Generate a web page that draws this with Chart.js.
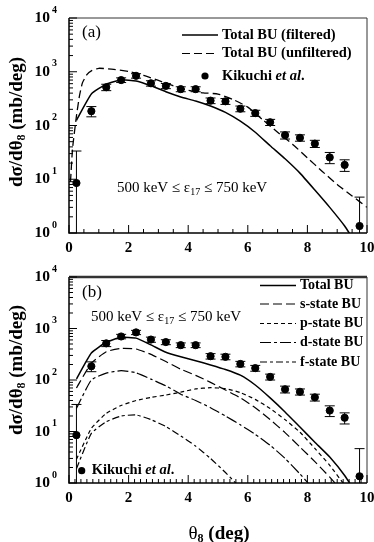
<!DOCTYPE html>
<html>
<head>
<meta charset="utf-8">
<script src="https://cdn.jsdelivr.net/npm/chart.js@4"></script>
<style>
  html, body { margin: 0; padding: 0; background: #fff; }
  #wrap { position: relative; width: 374px; height: 542px; }
  canvas { position: absolute; left: 0; }
  #chartA { top: 0; }
  #chartB { top: 260px; }
</style>
</head>
<body>
<div id="wrap">
  <canvas id="chartA" width="374" height="260"></canvas>
  <canvas id="chartB" width="374" height="282"></canvas>
</div>
<script>
// angle bins (deg)
const binTheta = [0.25, 0.75, 1.25, 1.75, 2.25, 2.75, 3.25, 3.75, 4.25, 4.75,
                  5.25, 5.75, 6.25, 6.75, 7.25, 7.75, 8.25, 8.75, 9.25, 9.75];

// Kikuchi et al. data (mb/deg)
const kikuchiSigma = [8.5, 185, 515, 700, 840, 610, 545, 475, 475, 290,
                      282, 205, 170, 115, 66, 59, 46, 25.5, 18.5, 1.35];
const kikuchiErr = [25, 40, 70, 70, 80, 70, 60, 50, 50, 35,
                    35, 25, 22, 15, 10, 8, 7, 6, 4.5, 3.3];

// panel (a)
const filteredBU = [125, 385, 590, 705, 675, 550, 425, 340, 285, 230,
                    175, 120, 75, 42, 24, 13, 6.3, 3.0, 1.35, 0.5];
const unfilteredTheta = [0.05, 0.12, 0.25, 0.35, 0.45, 0.6, 0.75, 1.0, 1.5, 2.0, 2.5, 3.0, 3.5,
                         4.0, 4.5, 5.0, 5.5, 6.0, 6.5, 7.0, 7.5, 8.0, 8.5, 9.0, 9.5, 10.0];
const unfilteredBU = [9, 38, 150, 353, 620, 880, 1040, 1160, 1110, 1010, 860, 690, 545,
                      450, 405, 385, 305, 220, 128, 75, 45, 25, 14, 8, 4.9, 3.0];

// panel (b)
const totalBU = [105, 335, 540, 675, 650, 480, 345, 282, 237, 196,
                 160, 124, 80, 45, 24, 12.2, 6.2, 3.2, 1.4, 0.5];
const sStateBU = [70, 212, 355, 410, 400, 315, 228, 162, 123, 90,
                  64, 45, 29, 17, 9.5, 5.0, 2.6, 1.3, 0.6, 0.2];
const pStateBU = [2.9, 11.5, 22.5, 32, 40, 46, 51, 58, 67, 71,
                  68, 57, 42, 28, 17, 9.7, 4.7, 2.2, 0.9, 0.3];
const dStateBU = [28, 100, 136, 152, 138, 104, 77, 53, 40, 29,
                  20, 13.5, 8.8, 5.4, 3.0, 1.5, 0.7, 0.3, 0.1, 0.05];
const fStateBU = [1.9, 9.2, 15.5, 20, 21, 17, 12.5, 8.2, 5.2, 3.0,
                  1.6, 0.8, 0.35, null, null, null, null, null, null, null];

const xTickLabels = [0, 2, 4, 6, 8, 10];
const yDecades = [1, 10, 100, 1000, 10000];

const SERIF = '"Liberation Serif", "DejaVu Serif", serif';

function pts(xs, ys) {
    return xs.map((x, i) => ({ x: x, y: ys[i] }));
}

// draw a run of text pieces; parts = [{t, font, dy}]
function drawRich(ctx, parts, x, y, align) {
    let w = 0;
    parts.forEach(p => { ctx.font = p.font; w += ctx.measureText(p.t).width; });
    let cx = align === 'center' ? x - w / 2 : (align === 'right' ? x - w : x);
    ctx.textAlign = 'left';
    ctx.textBaseline = 'middle';
    parts.forEach(p => {
        ctx.font = p.font;
        ctx.fillText(p.t, cx, y + (p.dy || 0));
        cx += ctx.measureText(p.t).width;
    });
}

const errorBars = {
    id: 'errorBars',
    afterDatasetsDraw(chart) {
        const ctx = chart.ctx, xs = chart.scales.x, ys = chart.scales.y, area = chart.chartArea;
        ctx.save();
        ctx.strokeStyle = '#000';
        ctx.lineWidth = 1;
        binTheta.forEach((t, i) => {
            const px = xs.getPixelForValue(t);
            const hi = kikuchiSigma[i] + kikuchiErr[i];
            const lo = kikuchiSigma[i] - kikuchiErr[i];
            const yHi = ys.getPixelForValue(hi);
            const yLo = lo >= 1 ? ys.getPixelForValue(lo) : area.bottom;
            ctx.beginPath();
            ctx.moveTo(px, yHi); ctx.lineTo(px, yLo);
            ctx.moveTo(px - 5, yHi); ctx.lineTo(px + 5, yHi);
            if (lo >= 1) { ctx.moveTo(px - 5, yLo); ctx.lineTo(px + 5, yLo); }
            ctx.stroke();
        });
        ctx.restore();
    }
};

function axesPlugin(cfg) {
    return {
        id: 'axesFrame',
        afterDraw(chart) {
            const ctx = chart.ctx, xs = chart.scales.x, ys = chart.scales.y, a = chart.chartArea;
            ctx.save();
            ctx.fillStyle = '#000';
            ctx.strokeStyle = '#000';
            // frame
            ctx.lineWidth = 1.5;
            ctx.beginPath();
            ctx.moveTo(a.left, a.top); ctx.lineTo(a.left, a.bottom); ctx.lineTo(a.right, a.bottom);
            ctx.stroke();
            ctx.lineWidth = 1;
            ctx.strokeStyle = '#333';
            ctx.beginPath();
            ctx.moveTo(a.right, a.bottom); ctx.lineTo(a.right, a.top);
            ctx.stroke();
            ctx.lineWidth = cfg.topWidth;
            ctx.beginPath();
            ctx.moveTo(a.left, a.top); ctx.lineTo(a.right, a.top);
            ctx.stroke();
            ctx.strokeStyle = '#000';
            ctx.lineWidth = 1;

            // x ticks inward
            ctx.beginPath();
            for (let k = 0; k <= Math.round(10 / cfg.xStep); k++) {
                const v = k * cfg.xStep;
                const px = xs.getPixelForValue(v);
                const major = Math.abs(v / 2 - Math.round(v / 2)) < 1e-6;
                const len = major ? 8 : 4;
                ctx.moveTo(px, a.bottom); ctx.lineTo(px, a.bottom - len);
            }
            // y ticks inward
            yDecades.forEach((d, j) => {
                const top = j === yDecades.length - 1 ? 1 : 9;
                for (let m = 1; m <= top; m++) {
                    const py = ys.getPixelForValue(m * d);
                    const len = m === 1 ? 8 : 4;
                    ctx.moveTo(a.left, py); ctx.lineTo(a.left + len, py);
                }
            });
            ctx.stroke();

            // tick labels
            xTickLabels.forEach(v => {
                drawRich(ctx, [{ t: String(v), font: 'bold 15px ' + SERIF }],
                    xs.getPixelForValue(v), a.bottom + 15, 'center');
            });
            yDecades.forEach((d, j) => {
                const py = ys.getPixelForValue(d);
                ctx.font = 'bold 15.5px ' + SERIF;
                ctx.textAlign = 'right';
                ctx.textBaseline = 'middle';
                ctx.fillText('10', 50, py);
                ctx.font = 'bold 10px ' + SERIF;
                ctx.textAlign = 'left';
                ctx.fillText(String(j), 52, py - 8);
            });

            // y title
            ctx.save();
            ctx.translate(17, cfg.yTitleY);
            ctx.rotate(-Math.PI / 2);
            drawRich(ctx, [
                { t: 'd\u03c3/d\u03b8', font: 'bold 19px ' + SERIF },
                { t: '8', font: 'bold 12px ' + SERIF, dy: 5 },
                { t: ' (mb/deg)', font: 'bold 19px ' + SERIF }
            ], 0, 0, 'center');
            ctx.restore();

            cfg.annotate(ctx, chart);
            ctx.restore();
        }
    };
}

function energyLabel(ctx, cx, cy) {
    drawRich(ctx, [
        { t: '500 keV \u2264 \u03b5', font: '15px ' + SERIF },
        { t: '17', font: '10px ' + SERIF, dy: 4 },
        { t: ' \u2264 750 keV', font: '15px ' + SERIF }
    ], cx, cy, 'center');
}

function kikuchiLabel(ctx, x, y, size) {
    drawRich(ctx, [
        { t: 'Kikuchi ', font: 'bold ' + size + 'px ' + SERIF },
        { t: 'et al', font: 'italic bold ' + size + 'px ' + SERIF },
        { t: '.', font: 'bold ' + size + 'px ' + SERIF }
    ], x, y, 'left');
}

function legendLine(ctx, x1, x2, y, dash, text, size) {
    ctx.save();
    ctx.lineWidth = dash.length ? 1.2 : 1.5;
    ctx.setLineDash(dash);
    ctx.beginPath();
    ctx.moveTo(x1, y); ctx.lineTo(x2, y);
    ctx.stroke();
    ctx.restore();
    drawRich(ctx, [{ t: text, font: 'bold ' + size + 'px ' + SERIF }], x2 + 4, y, 'left');
}

function curve(data, dash, width) {
    return {
        data: data,
        showLine: true,
        borderColor: '#000',
        borderWidth: width || 1.2,
        borderDash: dash,
        pointRadius: 0,
        fill: false,
        tension: 0.15
    };
}

function kikuchiSet() {
    return {
        data: pts(binTheta, kikuchiSigma),
        showLine: false,
        pointRadius: 3.6,
        backgroundColor: '#000',
        borderColor: '#000'
    };
}

function baseOptions(padding) {
    return {
        responsive: false,
        animation: false,
        layout: { padding: padding },
        plugins: { legend: { display: false }, tooltip: { enabled: false } },
        scales: {
            x: { type: 'linear', min: 0, max: 10, display: false },
            y: { type: 'logarithmic', min: 1, max: 10000, display: false }
        }
    };
}

// panel (a)
new Chart(document.getElementById('chartA').getContext('2d'), {
    type: 'scatter',
    data: {
        datasets: [
            curve(pts(binTheta, filteredBU), [], 1.5),
            curve(pts(unfilteredTheta, unfilteredBU), [8, 4], 1.3),
            kikuchiSet()
        ]
    },
    options: baseOptions({ left: 69, right: 7, top: 18, bottom: 27 }),
    plugins: [errorBars, axesPlugin({
        xStep: 0.5,
        topWidth: 1,
        yTitleY: 122,
        annotate(ctx) {
            drawRich(ctx, [{ t: '(a)', font: '17px ' + SERIF }], 82, 33, 'left');
            energyLabel(ctx, 192, 188);
            legendLine(ctx, 182, 218, 35, [], 'Total BU (filtered)', 14.5);
            legendLine(ctx, 182, 218, 53.5, [8, 4], 'Total BU (unfiltered)', 14.5);
            ctx.beginPath();
            ctx.arc(205, 76, 3.6, 0, Math.PI * 2);
            ctx.fill();
            kikuchiLabel(ctx, 222, 76, 14.5);
        }
    })]
});

// panel (b)
new Chart(document.getElementById('chartB').getContext('2d'), {
    type: 'scatter',
    data: {
        datasets: [
            curve(pts(binTheta, totalBU), [], 1.5),
            curve(pts(binTheta, sStateBU), [9, 4]),
            curve(pts(binTheta, pStateBU), [4, 3]),
            curve(pts(binTheta, dStateBU), [11, 3, 3, 3]),
            curve(pts(binTheta, fStateBU), [7, 3, 3, 3]),
            kikuchiSet()
        ]
    },
    options: baseOptions({ left: 69, right: 7, top: 17, bottom: 59 }),
    plugins: [errorBars, axesPlugin({
        xStep: 0.2,
        topWidth: 2.5,
        yTitleY: 110,
        annotate(ctx) {
            drawRich(ctx, [{ t: '(b)', font: '17px ' + SERIF }], 82, 33, 'left');
            energyLabel(ctx, 166, 57);
            legendLine(ctx, 260, 296, 25.5, [], 'Total BU', 14);
            legendLine(ctx, 260, 296, 44, [9, 4], 's-state BU', 14);
            legendLine(ctx, 260, 296, 63.5, [4, 3], 'p-state BU', 14);
            legendLine(ctx, 260, 296, 82.5, [11, 3, 3, 3], 'd-state BU', 14);
            legendLine(ctx, 260, 296, 102, [7, 3, 3, 3], 'f-state BU', 14);
            ctx.beginPath();
            ctx.arc(81.7, 210.7, 3.6, 0, Math.PI * 2);
            ctx.fill();
            kikuchiLabel(ctx, 91.7, 210.7, 14.5);
            drawRich(ctx, [
                { t: '\u03b8', font: '19px ' + SERIF },
                { t: '8', font: 'bold 12px ' + SERIF, dy: 5 },
                { t: ' (deg)', font: 'bold 19px ' + SERIF }
            ], 219, 274, 'center');
        }
    })]
});
</script>
</body>
</html>
